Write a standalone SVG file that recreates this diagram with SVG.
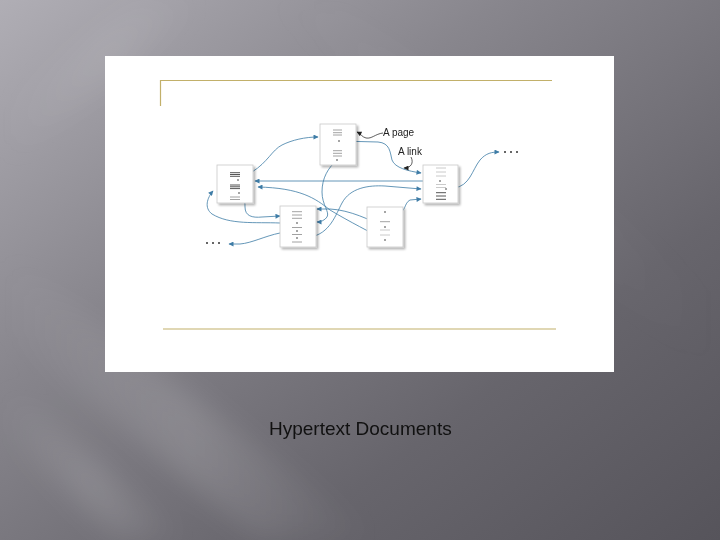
<svg xmlns="http://www.w3.org/2000/svg" width="720" height="540" viewBox="0 0 720 540">
<defs>
<linearGradient id="bg" x1="0" y1="0" x2="1" y2="1">
<stop offset="0" stop-color="#b0aeb5"/>
<stop offset="0.35" stop-color="#88868d"/>
<stop offset="0.7" stop-color="#67656c"/>
<stop offset="1" stop-color="#56545b"/>
</linearGradient>
<linearGradient id="streak" x1="0" y1="0" x2="1" y2="0">
<stop offset="0" stop-color="#ffffff" stop-opacity="0"/>
<stop offset="0.5" stop-color="#ffffff" stop-opacity="0.14"/>
<stop offset="1" stop-color="#ffffff" stop-opacity="0"/>
</linearGradient>
<filter id="blur" x="-10%" y="-10%" width="120%" height="120%">
<feGaussianBlur stdDeviation="14"/>
</filter>
<filter id="sh" x="-20%" y="-20%" width="150%" height="150%">
<feGaussianBlur in="SourceAlpha" stdDeviation="1.2"/>
<feOffset dx="1.5" dy="1.5"/>
<feComponentTransfer><feFuncA type="linear" slope="0.3"/></feComponentTransfer>
<feMerge><feMergeNode/><feMergeNode in="SourceGraphic"/></feMerge>
</filter>
<marker id="ar" viewBox="0 0 10 10" refX="9" refY="5" markerWidth="7" markerHeight="5" orient="auto" markerUnits="userSpaceOnUse">
<path d="M0,0 L10,5 L0,10 z" fill="#3e7ca6"/>
</marker>
<marker id="ark" viewBox="0 0 10 10" refX="9" refY="5" markerWidth="7" markerHeight="5" orient="auto" markerUnits="userSpaceOnUse">
<path d="M0,0 L10,5 L0,10 z" fill="#222"/>
</marker>
</defs>
<style>
.page{fill:#ffffff;stroke:#c9c9c9;stroke-width:0.8}
.ln{stroke:#8a8a8a;stroke-width:0.8}
.lt{stroke:#bdbdbd;stroke-width:0.8}
.dk{stroke:#555;stroke-width:1}
.dot{fill:#333}
.c{fill:none;stroke:#3e7ca6;stroke-width:0.8;marker-end:url(#ar)}
.ck{fill:none;stroke:#333;stroke-width:0.8;marker-end:url(#ark)}
.lbl{font-family:"Liberation Sans",Arial,sans-serif;font-size:10px;fill:#222}
.gold{stroke:#c2b06a;stroke-width:1.2;fill:none}
</style>
<rect width="720" height="540" fill="url(#bg)"/>
<g filter="url(#blur)">
<polygon points="0,250 0,330 260,540 380,540" fill="url(#streak)"/>
<polygon points="0,380 0,430 120,540 190,540" fill="url(#streak)"/>
<polygon points="0,110 0,170 210,0 140,0" fill="url(#streak)" opacity="0.6"/>
<polygon points="260,0 340,0 720,300 720,380" fill="url(#streak)" opacity="0.3"/>
</g>
<rect x="105" y="56" width="509" height="316" fill="#ffffff"/>
<path class="gold" d="M160.5,106 L160.5,80.5 L552,80.5"/>
<path class="gold" d="M163,329 L556,329"/>

<g id="connectors">
<path class="c" d="M252,172 C268,162 272,150 282,145 C292,140 305,137 318,137"/>
<path class="ck" d="M383,133 C375,134 372,139 366,138 C362,137 361,134 357,132"/>
<path class="c" d="M339,141 L378,142 C390,143 390,152 392,160 C395,168 408,171 421,173"/>
<path class="ck" d="M411,157 C414,163 411,168 404,168"/>
<path class="c" d="M440,181 L255,181"/>
<path class="c" d="M447,189 L454,188 C470,186 472,170 480,160 C486,153 492,152 499,152"/>
<path class="c" d="M297,238 L310,237 C330,234 336,214 342,203 C350,188 368,185 385,186 L421,189"/>
<path class="c" d="M385,212 L398,213 C406,212 404,203 410,200 L421,199"/>
<path class="c" d="M239,193 C244,193 245,200 245,207 C245,216 252,218 262,217 L280,216"/>
<path class="c" d="M297,223 L280,223 C255,222 230,225 212,214 C204,208 207,198 213,191"/>
<path class="c" d="M297,231 L280,233 C265,236 252,243 240,244 L229,244"/>
<path class="c" d="M337,160 C328,168 322,178 322,192 C322,205 330,212 327,217 C325,220 321,222 317,222"/>
<path class="c" d="M385,240 C370,232 350,222 330,210 C315,198 300,188 258,187"/>
<path class="c" d="M385,227 C370,220 350,210 330,209 L317,209"/>
</g>

<g id="node-top" filter="url(#sh)">
<rect class="page" x="320" y="124" width="36" height="41"/>
<path class="ln" d="M333,130H342M333,132.7H342M333,135H342M333,150.7H342M333,153.3H342M333,156H342"/>
<circle class="dot" cx="339" cy="141" r="0.8"/>
<circle class="dot" cx="337" cy="160" r="0.8"/>
</g>
<g id="node-left" filter="url(#sh)">
<rect class="page" x="217" y="165" width="36" height="38"/>
<path class="dk" d="M230,172.7H240M230,174.5H240M230,176.3H240M230,185H240M230,186.8H240M230,188.6H240"/>
<path class="ln" d="M230,197H240M230,199.5H240"/>
<circle class="dot" cx="238" cy="180" r="0.8"/>
<circle class="dot" cx="239" cy="193" r="0.8"/>
</g>
<g id="node-right" filter="url(#sh)">
<rect class="page" x="423" y="165" width="35" height="38"/>
<path class="lt" d="M436,168H446M436,172H446M436,176H446M436,184.5H446M436,187.5H446"/>
<path class="dk" d="M436,192.7H446M436,196H446M436,199.3H446"/>
<circle class="dot" cx="440" cy="181" r="0.8"/>
<circle class="dot" cx="446" cy="189" r="0.8"/>
</g>
<g id="node-bottom-left" filter="url(#sh)">
<rect class="page" x="280" y="206" width="36" height="41"/>
<path class="ln" d="M292,211.7H302M292,215H302M292,218.3H302M292,227.5H302M292,234.5H302M292,242H302"/>
<circle class="dot" cx="297" cy="223" r="0.8"/>
<circle class="dot" cx="297" cy="231" r="0.8"/>
<circle class="dot" cx="297" cy="238" r="0.8"/>
</g>
<g id="node-bottom-right" filter="url(#sh)">
<rect class="page" x="367" y="207" width="36" height="40"/>
<path class="ln" d="M380,221.7H390"/>
<path class="lt" d="M380,230H390M380,235H390"/>
<circle class="dot" cx="385" cy="212" r="0.8"/>
<circle class="dot" cx="385" cy="227" r="0.8"/>
<circle class="dot" cx="385" cy="240" r="0.8"/>
</g>

<g id="labels">
<text class="lbl" x="383" y="136">A page</text>
<text class="lbl" x="398" y="155">A link</text>
<g class="dot">
<circle cx="505" cy="152" r="1"/><circle cx="511" cy="152" r="1"/><circle cx="517" cy="152" r="1"/>
<circle cx="207" cy="243" r="1"/><circle cx="213" cy="243" r="1"/><circle cx="219" cy="243" r="1"/>
</g>
</g>
<text x="269" y="435" font-family="'Liberation Sans',Arial,sans-serif" font-size="19" fill="#111">Hypertext Documents</text>
</svg>
